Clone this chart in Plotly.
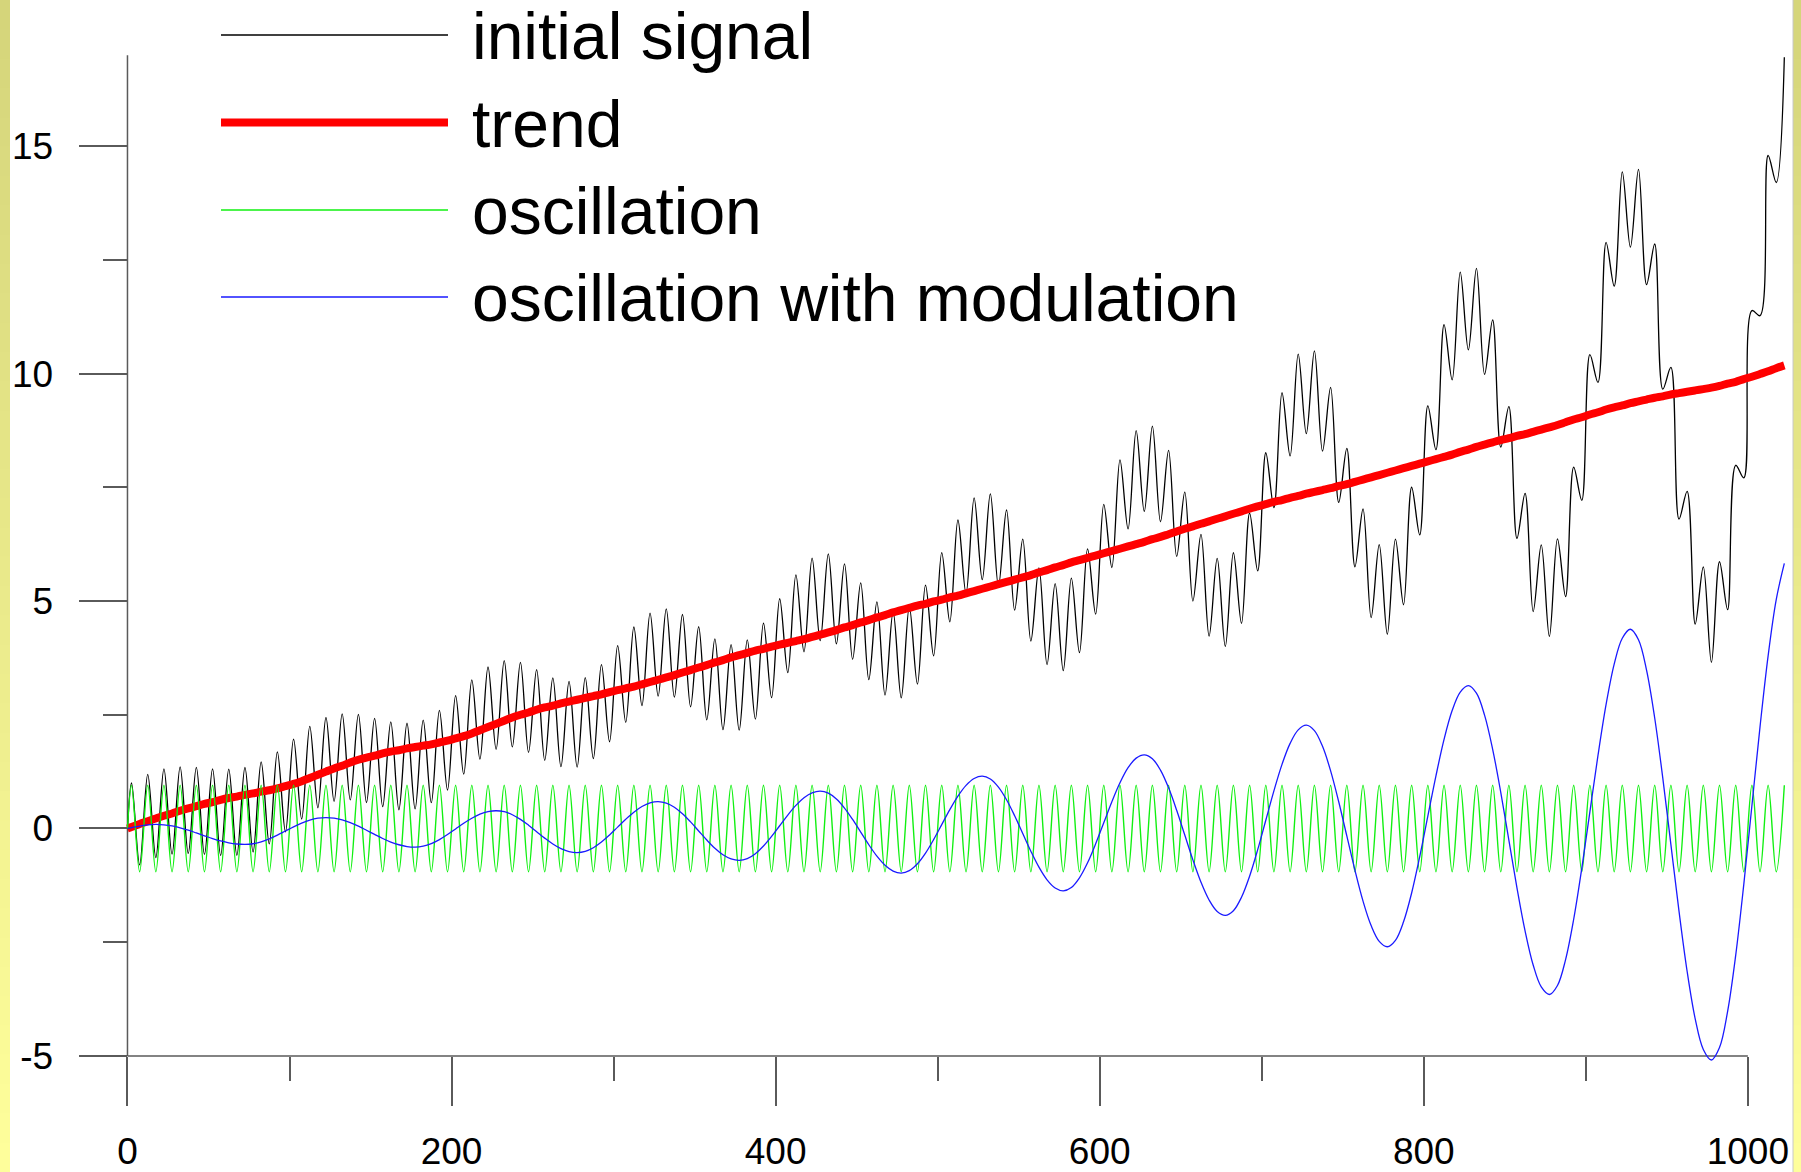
import plotly.graph_objects as go

# ---------------- data ----------------
x = [0,
     2.5, 7.5, 12.5, 17.5, 22.5, 27.5, 32.5, 37.5, 42.5, 47.5,
     52.5, 57.5, 62.5, 67.5, 72.5, 77.5, 82.5, 87.5, 92.5, 97.5,
     102.5, 107.5, 112.5, 117.5, 122.5, 127.5, 132.5, 137.5, 142.5, 147.5,
     152.5, 157.5, 162.5, 167.5, 172.5, 177.5, 182.5, 187.5, 192.5, 197.5,
     202.5, 207.5, 212.5, 217.5, 222.5, 227.5, 232.5, 237.5, 242.5, 247.5,
     252.5, 257.5, 262.5, 267.5, 272.5, 277.5, 282.5, 287.5, 292.5, 297.5,
     302.5, 307.5, 312.5, 317.5, 322.5, 327.5, 332.5, 337.5, 342.5, 347.5,
     352.5, 357.5, 362.5, 367.5, 372.5, 377.5, 382.5, 387.5, 392.5, 397.5,
     402.5, 407.5, 412.5, 417.5, 422.5, 427.5, 432.5, 437.5, 442.5, 447.5,
     452.5, 457.5, 462.5, 467.5, 472.5, 477.5, 482.5, 487.5, 492.5, 497.5,
     502.5, 507.5, 512.5, 517.5, 522.5, 527.5, 532.5, 537.5, 542.5, 547.5,
     552.5, 557.5, 562.5, 567.5, 572.5, 577.5, 582.5, 587.5, 592.5, 597.5,
     602.5, 607.5, 612.5, 617.5, 622.5, 627.5, 632.5, 637.5, 642.5, 647.5,
     652.5, 657.5, 662.5, 667.5, 672.5, 677.5, 682.5, 687.5, 692.5, 697.5,
     702.5, 707.5, 712.5, 717.5, 722.5, 727.5, 732.5, 737.5, 742.5, 747.5,
     752.5, 757.5, 762.5, 767.5, 772.5, 777.5, 782.5, 787.5, 792.5, 797.5,
     802.5, 807.5, 812.5, 817.5, 822.5, 827.5, 832.5, 837.5, 842.5, 847.5,
     852.5, 857.5, 862.5, 867.5, 872.5, 877.5, 882.5, 887.5, 892.5, 897.5,
     902.5, 907.5, 912.5, 917.5, 922.5, 927.5, 932.5, 937.5, 942.5, 947.5,
     952.5, 957.5, 962.5, 967.5, 972.5, 977.5, 982.5, 987.5, 992.5, 997.5,
     1002.5, 1007.5, 1012.5, 1017.5, 1022.5]

trend = [0,
     0.03, 0.10, 0.16, 0.22, 0.28, 0.33, 0.39, 0.44, 0.49, 0.54,
     0.58, 0.63, 0.67, 0.70, 0.74, 0.77, 0.81, 0.84, 0.88, 0.93,
     0.98, 1.04, 1.11, 1.18, 1.25, 1.32, 1.38, 1.45, 1.51, 1.56,
     1.60, 1.65, 1.69, 1.72, 1.76, 1.79, 1.82, 1.85, 1.89, 1.93,
     1.98, 2.03, 2.09, 2.16, 2.23, 2.30, 2.37, 2.44, 2.50, 2.55,
     2.61, 2.66, 2.70, 2.75, 2.79, 2.83, 2.87, 2.91, 2.95, 3.00,
     3.04, 3.08, 3.12, 3.17, 3.22, 3.27, 3.32, 3.37, 3.43, 3.48,
     3.54, 3.59, 3.65, 3.70, 3.76, 3.81, 3.86, 3.91, 3.95, 4.00,
     4.04, 4.08, 4.12, 4.16, 4.21, 4.26, 4.31, 4.36, 4.42, 4.47,
     4.53, 4.58, 4.64, 4.69, 4.75, 4.80, 4.85, 4.90, 4.94, 4.99,
     5.03, 5.08, 5.12, 5.17, 5.22, 5.27, 5.32, 5.37, 5.42, 5.47,
     5.52, 5.57, 5.63, 5.68, 5.74, 5.79, 5.85, 5.90, 5.95, 6.00,
     6.05, 6.10, 6.15, 6.20, 6.25, 6.30, 6.36, 6.41, 6.47, 6.53,
     6.59, 6.64, 6.70, 6.75, 6.81, 6.86, 6.92, 6.97, 7.03, 7.08,
     7.13, 7.18, 7.22, 7.27, 7.31, 7.36, 7.40, 7.44, 7.48, 7.53,
     7.57, 7.62, 7.67, 7.72, 7.77, 7.82, 7.87, 7.92, 7.97, 8.02,
     8.07, 8.12, 8.17, 8.22, 8.28, 8.33, 8.39, 8.44, 8.49, 8.54,
     8.58, 8.63, 8.67, 8.72, 8.77, 8.82, 8.87, 8.93, 8.99, 9.04,
     9.10, 9.15, 9.21, 9.26, 9.30, 9.35, 9.39, 9.43, 9.47, 9.50,
     9.54, 9.57, 9.60, 9.63, 9.66, 9.69, 9.73, 9.78, 9.82, 9.88,
     9.93, 9.99, 10.05, 10.12, 10.18]

oscillation = [0,
     0.95, -0.95, 0.95, -0.95, 0.95, -0.95, 0.95, -0.95, 0.95, -0.95,
     0.95, -0.95, 0.95, -0.95, 0.95, -0.95, 0.95, -0.95, 0.95, -0.95,
     0.95, -0.95, 0.95, -0.95, 0.95, -0.95, 0.95, -0.95, 0.95, -0.95,
     0.95, -0.95, 0.95, -0.95, 0.95, -0.95, 0.95, -0.95, 0.95, -0.95,
     0.95, -0.95, 0.95, -0.95, 0.95, -0.95, 0.95, -0.95, 0.95, -0.95,
     0.95, -0.95, 0.95, -0.95, 0.95, -0.95, 0.95, -0.95, 0.95, -0.95,
     0.95, -0.95, 0.95, -0.95, 0.95, -0.95, 0.95, -0.95, 0.95, -0.95,
     0.95, -0.95, 0.95, -0.95, 0.95, -0.95, 0.95, -0.95, 0.95, -0.95,
     0.95, -0.95, 0.95, -0.95, 0.95, -0.95, 0.95, -0.95, 0.95, -0.95,
     0.95, -0.95, 0.95, -0.95, 0.95, -0.95, 0.95, -0.95, 0.95, -0.95,
     0.95, -0.95, 0.95, -0.95, 0.95, -0.95, 0.95, -0.95, 0.95, -0.95,
     0.95, -0.95, 0.95, -0.95, 0.95, -0.95, 0.95, -0.95, 0.95, -0.95,
     0.95, -0.95, 0.95, -0.95, 0.95, -0.95, 0.95, -0.95, 0.95, -0.95,
     0.95, -0.95, 0.95, -0.95, 0.95, -0.95, 0.95, -0.95, 0.95, -0.95,
     0.95, -0.95, 0.95, -0.95, 0.95, -0.95, 0.95, -0.95, 0.95, -0.95,
     0.95, -0.95, 0.95, -0.95, 0.95, -0.95, 0.95, -0.95, 0.95, -0.95,
     0.95, -0.95, 0.95, -0.95, 0.95, -0.95, 0.95, -0.95, 0.95, -0.95,
     0.95, -0.95, 0.95, -0.95, 0.95, -0.95, 0.95, -0.95, 0.95, -0.95,
     0.95, -0.95, 0.95, -0.95, 0.95, -0.95, 0.95, -0.95, 0.95, -0.95,
     0.95, -0.95, 0.95, -0.95, 0.95, -0.95, 0.95, -0.95, 0.95, -0.95,
     0.95, -0.95, 0.95, -0.95, 0.95]

oscillation_mod = [0,
     0.02, 0.05, 0.08, 0.09, 0.081, 0.055, 0.014, -0.039, -0.099, -0.161,
     -0.221, -0.274, -0.315, -0.341, -0.35, -0.336, -0.294, -0.228, -0.146, -0.055,
     0.036, 0.118, 0.184, 0.226, 0.24, 0.227, 0.188, 0.128, 0.050, -0.039,
     -0.131, -0.220, -0.298, -0.358, -0.397, -0.41, -0.390, -0.334, -0.245, -0.134,
     -0.010, 0.114, 0.225, 0.314, 0.370, 0.39, 0.368, 0.302, 0.201, 0.072,
     -0.070, -0.212, -0.341, -0.442, -0.508, -0.53, -0.503, -0.423, -0.299, -0.143,
     0.030, 0.203, 0.359, 0.483, 0.563, 0.59, 0.558, 0.467, 0.324, 0.144,
     -0.055, -0.254, -0.434, -0.577, -0.668, -0.70, -0.663, -0.555, -0.387, -0.175,
     0.060, 0.295, 0.507, 0.675, 0.783, 0.82, 0.776, 0.648, 0.449, 0.198,
     -0.080, -0.358, -0.609, -0.808, -0.936, -0.98, -0.928, -0.777, -0.541, -0.244,
     0.085, 0.414, 0.711, 0.947, 1.098, 1.15, 1.088, 0.909, 0.631, 0.279,
     -0.110, -0.499, -0.851, -1.129, -1.308, -1.37, -1.297, -1.084, -0.754, -0.337,
     0.125, 0.587, 1.004, 1.335, 1.547, 1.62, 1.534, 1.283, 0.893, 0.400,
     -0.145, -0.690, -1.183, -1.573, -1.824, -1.91, -1.808, -1.511, -1.049, -0.466,
     0.180, 0.826, 1.409, 1.871, 2.168, 2.27, 2.151, 1.805, 1.267, 0.587,
     -0.165, -0.917, -1.597, -2.135, -2.481, -2.60, -2.459, -2.052, -1.418, -0.617,
     0.270, 1.157, 1.958, 2.592, 2.999, 3.14, 2.974, 2.492, 1.741, 0.794,
     -0.255, -1.304, -2.251, -3.002, -3.484, -3.65, -3.453, -2.883, -1.996, -0.876,
     0.365, 1.606, 2.726, 3.613, 4.183, 4.38, 4.148, 3.476, 2.429, 1.108,
     -0.355, -1.818, -3.139, -4.186, -4.858, -5.09, -4.816, -4.021, -2.785, -1.224,
     0.505, 2.234, 3.795, 5.031, 5.826]

# the initial signal is the sum of its three components
initial_signal = [t + o + m for t, o, m in zip(trend, oscillation, oscillation_mod)]

legend_names = ["initial signal", "trend", "oscillation", "oscillation with modulation"]
x_tick_vals = [0, 200, 400, 600, 800, 1000]
x_tick_text = ["0", "200", "400", "600", "800", "1000"]
y_tick_vals = [-5, 0, 5, 10, 15]
y_tick_text = ["-5", "0", "5", "10", "15"]

# ---------------- layout geometry ----------------
W, H = 1801, 1172
L, R, T, B = 121, 11, 37, 107
PW, PH = W - L - R, H - T - B
XR = [-4, 1026]
YR = [-5.2, 17.4]


def pxx(p):
    return (p - L) / PW


def pxy(p):
    return (H - B - p) / PH


FONT = "Liberation Sans, Arial, Helvetica, sans-serif"
AXC = "#5a5a5a"

fig = go.Figure()
fig.add_trace(go.Scatter(x=x, y=initial_signal, mode="lines", line=dict(color="black", width=1.3, shape="spline"),
                         name=legend_names[0], showlegend=False))
fig.add_trace(go.Scatter(x=x, y=trend, mode="lines", line=dict(color="#ff0000", width=8, shape="spline"),
                         name=legend_names[1], showlegend=False))
fig.add_trace(go.Scatter(x=x, y=oscillation, mode="lines", line=dict(color="#11f011", width=1.4, shape="spline"),
                         name=legend_names[2], showlegend=False))
fig.add_trace(go.Scatter(x=x, y=oscillation_mod, mode="lines", line=dict(color="#1a1aff", width=1.3, shape="spline"),
                         name=legend_names[3], showlegend=False))

shapes = []
# yellow side strips (vertical gradient)
top_c = (212, 212, 122)
bot_c = (255, 255, 155)
N = 40
for i in range(N):
    f = (i + 0.5) / N
    c = tuple(int(round(top_c[k] + (bot_c[k] - top_c[k]) * f)) for k in range(3))
    col = "rgb(%d,%d,%d)" % c
    y0p, y1p = i * H / N, (i + 1) * H / N + 1
    for (a, b) in [(0, 10), (1793, W + 2)]:
        shapes.append(dict(type="rect", xref="paper", yref="paper", x0=pxx(a), x1=pxx(b),
                           y0=pxy(y1p), y1=pxy(y0p), fillcolor=col, line=dict(width=0), layer="below"))
shapes.append(dict(type="line", xref="paper", yref="paper", x0=pxx(1793), x1=pxx(1793),
                   y0=pxy(H), y1=pxy(0), line=dict(color="#c8c8c8", width=1), layer="below"))

# axis lines
shapes.append(dict(type="line", xref="x", yref="y", x0=0, x1=1000, y0=-5, y1=-5,
                   line=dict(color=AXC, width=1.5), layer="below"))
shapes.append(dict(type="line", xref="x", yref="y", x0=0, x1=0, y0=-5, y1=17.0,
                   line=dict(color=AXC, width=1.5), layer="below"))

# manual legend
leg_rows = [35, 122.5, 210, 297]
leg_style = [("black", 1.3), ("#ff0000", 8), ("#11f011", 1.4), ("#1a1aff", 1.3)]
annotations = []
for name, yp, (col, wd) in zip(legend_names, leg_rows, leg_style):
    shapes.append(dict(type="line", xref="paper", yref="paper", x0=pxx(221), x1=pxx(448),
                       y0=pxy(yp), y1=pxy(yp), line=dict(color=col, width=wd)))
    annotations.append(dict(xref="paper", yref="paper", x=pxx(469.5), y=pxy(yp + 1), text=name,
                            showarrow=False, xanchor="left", yanchor="middle",
                            font=dict(family=FONT, size=66, color="black")))

fig.update_layout(
    width=W, height=H, autosize=False,
    margin=dict(l=L, r=R, t=T, b=B, pad=0, autoexpand=False),
    paper_bgcolor="white", plot_bgcolor="white",
    showlegend=False,
    shapes=shapes, annotations=annotations,
    xaxis=dict(range=XR, showgrid=False, zeroline=False, showline=False, automargin=False,
               anchor="free", position=(-5 - YR[0]) / (YR[1] - YR[0]),
               tickmode="array", tickvals=x_tick_vals, ticktext=x_tick_text,
               ticks="outside", ticklen=49, tickwidth=1.5, tickcolor=AXC,
               ticklabelstandoff=14,
               tickfont=dict(family=FONT, size=37, color="black"),
               minor=dict(tick0=0, dtick=100, ticks="outside", ticklen=24, tickwidth=1.5,
                          tickcolor=AXC, showgrid=False)),
    yaxis=dict(range=YR, showgrid=False, zeroline=False, showline=False, automargin=False,
               anchor="free", position=(0 - XR[0]) / (XR[1] - XR[0]),
               tickmode="array", tickvals=y_tick_vals, ticktext=y_tick_text,
               ticks="outside", ticklen=48, tickwidth=1.5, tickcolor=AXC,
               ticklabelstandoff=19,
               tickfont=dict(family=FONT, size=37, color="black"),
               minor=dict(tick0=0, dtick=2.5, ticks="outside", ticklen=24, tickwidth=1.5,
                          tickcolor=AXC, showgrid=False)),
)

fig.write_html("out.html", config={"displayModeBar": False},
               post_script="document.body.style.margin='0';")
